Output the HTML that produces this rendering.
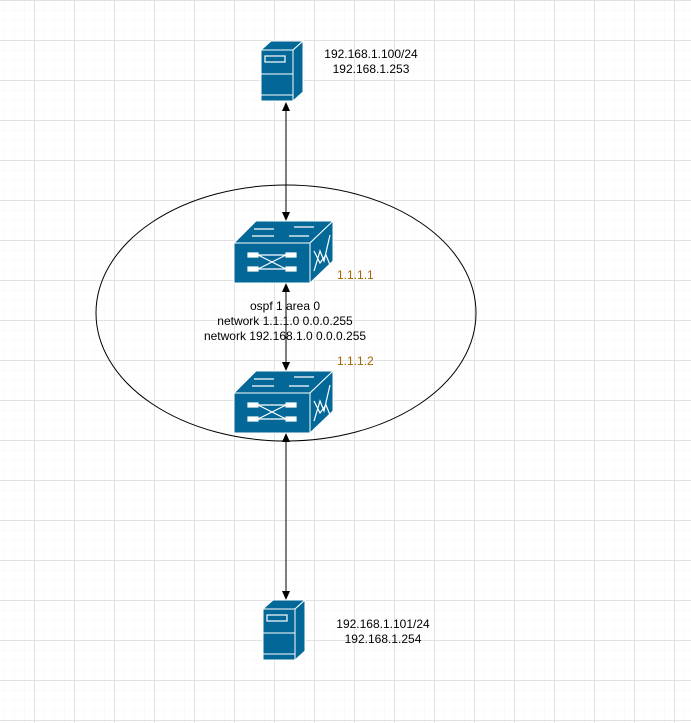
<!DOCTYPE html>
<html><head><meta charset="utf-8"><style>
html,body{margin:0;padding:0;background:#fff}
svg{display:block}
text{font-family:"Liberation Sans",Arial,sans-serif;font-size:12px}
</style></head><body>
<svg width="691" height="723" viewBox="0 0 691 723" xmlns="http://www.w3.org/2000/svg">
<defs>
<pattern id="minor" x="4" y="0" width="10" height="10" patternUnits="userSpaceOnUse">
<path d="M0 0V10M0 0H10" stroke="#f6f6f6" stroke-width="1" fill="none"/>
</pattern>
<pattern id="major" x="-6" y="0" width="40" height="40" patternUnits="userSpaceOnUse">
<path d="M0.5 0V40M0 0.5H40" stroke="#e2e2e2" stroke-width="1" fill="none"/>
</pattern>
<g id="server">
<path d="M0 9 L10 0 L42 0 L32 9 Z" fill="#036897" stroke="#fff" stroke-width="1"/>
<path d="M32 9 L42 0 L42 51 L32 60 Z" fill="#036897" stroke="#fff" stroke-width="1"/>
<rect x="0" y="9" width="32" height="51" fill="#036897" stroke="#fff" stroke-width="1"/>
<line x1="0" y1="33" x2="32" y2="33" stroke="#fff"/>
<line x1="0" y1="54" x2="32" y2="54" stroke="#fff"/>
<rect x="4" y="15" width="20" height="6" fill="none" stroke="#fff" stroke-width="1.2"/>
</g>
<g id="switch">
<path d="M0 22 L22 0 L99 0 L76 22 Z" fill="#036897" stroke="#fff"/>
<path d="M76 22 L99 0 L99 40 L76 62 Z" fill="#036897" stroke="#fff"/>
<rect x="0" y="22" width="76" height="40" fill="#036897" stroke="#fff"/>
<g stroke="#fff" stroke-width="1.2" fill="#fff">
<path d="M20 8 H40 M60 6 H80 M18 15 H40 M55 15 H75" />
<rect x="14" y="32" width="10" height="4"/><rect x="52" y="32" width="10" height="4"/>
<rect x="14" y="46" width="10" height="4"/><rect x="52" y="46" width="10" height="4"/>
<path d="M24 34 H52 M24 48 H52 M24 34 L52 48 M24 48 L52 34" fill="none"/>
<path d="M80 50 L86 30 L90 40 L96 14" fill="none"/>
<path d="M80 30 L86 42 L92 34 L96 44" fill="none"/>
</g>
</g>
</defs>
<rect width="691" height="723" fill="url(#minor)"/>
<rect width="691" height="723" fill="url(#major)"/>
<ellipse cx="286" cy="313" rx="190" ry="128" fill="none" stroke="#000" stroke-width="1"/>
<g stroke="#000" stroke-width="1">
<line x1="286" y1="110" x2="286" y2="213"/>
<line x1="286" y1="291" x2="286" y2="363"/>
<line x1="286" y1="441" x2="286" y2="592"/>
</g>
<g fill="#000">
<path d="M286 102 L282 111 L290 111 Z"/><path d="M286 221 L282 212 L290 212 Z"/>
<path d="M286 283 L282 292 L290 292 Z"/><path d="M286 371 L282 362 L290 362 Z"/>
<path d="M286 433 L282 442 L290 442 Z"/><path d="M286 600 L282 591 L290 591 Z"/>
</g>
<use href="#server" x="261" y="41"/>
<use href="#server" x="263" y="600"/>
<use href="#switch" x="234" y="221"/>
<use href="#switch" x="234" y="371"/>
<text x="371" y="58" text-anchor="middle">192.168.1.100/24</text>
<text x="371" y="73" text-anchor="middle">192.168.1.253</text>
<text x="383" y="628" text-anchor="middle">192.168.1.101/24</text>
<text x="383" y="643" text-anchor="middle">192.168.1.254</text>
<text x="337" y="279" fill="#a66600">1.1.1.1</text>
<text x="337" y="365" fill="#a66600">1.1.1.2</text>
<text x="285" y="310" text-anchor="middle">ospf 1 area 0</text>
<text x="285" y="325" text-anchor="middle">network 1.1.1.0 0.0.0.255</text>
<text x="285" y="340" text-anchor="middle">network 192.168.1.0 0.0.0.255</text>
</svg>
</body></html>
